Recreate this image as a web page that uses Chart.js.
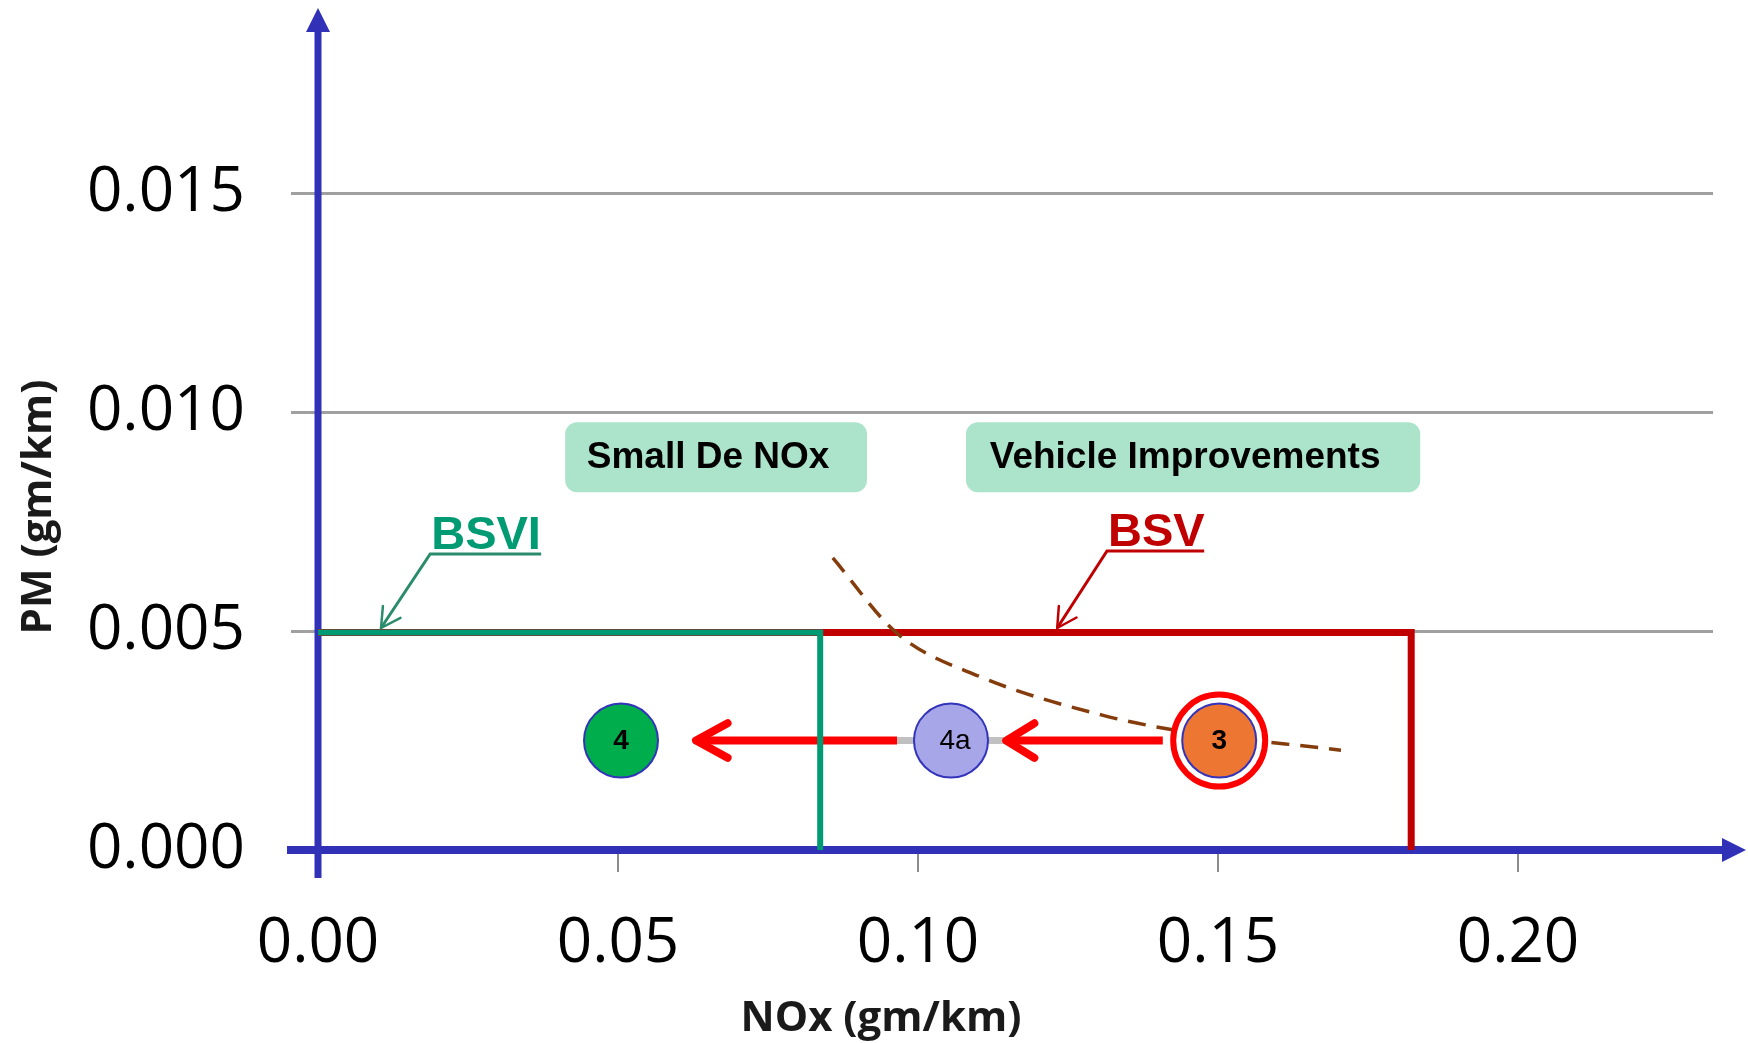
<!DOCTYPE html>
<html><head><meta charset="utf-8">
<script src="https://cdn.jsdelivr.net/npm/chart.js@4/dist/chart.umd.min.js"></script>
<style>html,body{margin:0;padding:0;background:#fff;overflow:hidden}canvas{display:block}</style>
</head><body>
<canvas id="c" width="1748" height="1043"></canvas>
<script>
// ---- axis ticks & titles
const xTickValues = [0, 0.05, 0.10, 0.15, 0.20];
const xTickLabels = ['0.00', '0.05', '0.10', '0.15', '0.20'];
const yTickValues = [0, 0.005, 0.010, 0.015];
const yTickLabels = ['0.000', '0.005', '0.010', '0.015'];
const xTitle = 'NOx (gm/km)';
const yTitle = 'PM (gm/km)';

// ---- measured points
const pointNames = ['4', '4a', '3'];
const pointNOx = [0.0505, 0.1055, 0.1502];
const pointPM = [0.0025, 0.0025, 0.0025];

// ---- emission limit boxes
const bsviNOx = [0, 0.0837, 0.0837];
const bsviPM = [0.00497, 0.00497, 0];
const bsvNOx = [0, 0.1822, 0.1822];
const bsvPM = [0.00497, 0.00497, 0];

// ---- NOx / PM trade-off curve
const tradeoffNOx = [0.0858, 0.0965, 0.1105, 0.1307, 0.1428, 0.1705];
const tradeoffPM = [0.00667, 0.00495, 0.00395, 0.00308, 0.00274, 0.00228];

// ---- improvement arrows
const arrow1NOx = [0.1408, 0.1147];
const arrow1PM = [0.0025, 0.0025];
const arrow2NOx = [0.0965, 0.0630];
const arrow2PM = [0.0025, 0.0025];
const linkNOx = [0.0965, 0.1388];
const linkPM = [0.0025, 0.0025];

// ---- callouts
const bsviLabel = 'BSVI';
const bsviCalloutNOx = [0.0372, 0.0187, 0.0105];
const bsviCalloutPM = [0.00676, 0.00676, 0.00507];
const bsvLabel = 'BSV';
const bsvCalloutNOx = [0.1477, 0.1315, 0.1232];
const bsvCalloutPM = [0.00683, 0.00683, 0.00507];

// ---- text boxes
const boxLabels = ['Small De NOx', 'Vehicle Improvements'];
const boxNOx = [[0.0412, 0.0915], [0.108, 0.1837]];
const boxPM = [[0.00977, 0.00817], [0.00977, 0.00817]];

const zip = (xs, ys) => xs.map((v, i) => ({x: v, y: ys[i]}));

const AXIS_BLUE = '#3131b7';
const TICK_FONT = '"Open Sans", "DejaVu Sans", sans-serif';
const BOLD_FONT = '"Liberation Sans", Arial, sans-serif';
const NARROW_FONT = '"Liberation Sans Narrow", "Liberation Sans", sans-serif';

const overlay = {
  id: 'overlay',
  beforeDatasetsDraw(chart) {
    const {ctx, chartArea, scales: {x, y}} = chart;
    ctx.save();
    // text boxes
    boxLabels.forEach((t, i) => {
      const x0 = x.getPixelForValue(boxNOx[i][0]), x1 = x.getPixelForValue(boxNOx[i][1]);
      const y0 = y.getPixelForValue(boxPM[i][0]), y1 = y.getPixelForValue(boxPM[i][1]);
      ctx.fillStyle = '#abe3cb';
      ctx.beginPath(); ctx.roundRect(x0, y0, x1 - x0, y1 - y0, 12); ctx.fill();
      ctx.fillStyle = '#000';
      ctx.font = 'bold 37px ' + BOLD_FONT;
      ctx.textAlign = 'center'; ctx.textBaseline = 'middle';
      ctx.fillText(t, (x0 + x1) / 2 - 8, (y0 + y1) / 2 + 1);
    });
    // axes with arrow heads
    const ox = x.getPixelForValue(0), oy = y.getPixelForValue(0);
    ctx.strokeStyle = AXIS_BLUE; ctx.fillStyle = AXIS_BLUE;
    ctx.lineWidth = 7;
    ctx.beginPath(); ctx.moveTo(ox, oy + 28); ctx.lineTo(ox, chartArea.top - 12); ctx.stroke();
    ctx.beginPath();
    ctx.moveTo(ox, chartArea.top - 32); ctx.lineTo(ox - 12, chartArea.top - 8); ctx.lineTo(ox + 12, chartArea.top - 8);
    ctx.closePath(); ctx.fill();
    ctx.lineWidth = 8;
    ctx.beginPath(); ctx.moveTo(ox - 31, oy); ctx.lineTo(chartArea.right + 14, oy); ctx.stroke();
    ctx.beginPath();
    ctx.moveTo(chartArea.right + 33, oy); ctx.lineTo(chartArea.right + 9, oy - 12); ctx.lineTo(chartArea.right + 9, oy + 12);
    ctx.closePath(); ctx.fill();
    ctx.restore();
  },
  afterDatasetsDraw(chart) {
    const {ctx} = chart;
    ctx.save();
    chart.data.datasets.forEach((ds, di) => {
      const meta = chart.getDatasetMeta(di);
      if (ds.arrowHead) {
        const n = meta.data.length;
        const tip = meta.data[n - 1], prev = meta.data[n - 2];
        const ang = Math.atan2(tip.y - prev.y, tip.x - prev.x);
        const {len, spread, width} = ds.arrowHead;
        ctx.strokeStyle = ds.borderColor; ctx.lineWidth = width;
        ctx.lineCap = 'round'; ctx.lineJoin = 'round';
        ctx.beginPath();
        ctx.moveTo(tip.x - len * Math.cos(ang - spread), tip.y - len * Math.sin(ang - spread));
        ctx.lineTo(tip.x, tip.y);
        ctx.lineTo(tip.x - len * Math.cos(ang + spread), tip.y - len * Math.sin(ang + spread));
        ctx.stroke();
      }
      if (ds.calloutText) {
        const b = meta.data[1];
        ctx.fillStyle = ds.textColor;
        ctx.font = 'bold 47px ' + BOLD_FONT;
        ctx.textAlign = 'left'; ctx.textBaseline = 'alphabetic';
        ctx.fillText(ds.calloutText, b.x + 1, b.y - 5);
      }
      if (ds.pointNames) {
        meta.data.forEach((p, i) => {
          const t = ds.pointNames[i];
          ctx.fillStyle = '#000';
          ctx.font = (t.length > 1 ? '' : 'bold ') + '28px ' + NARROW_FONT;
          ctx.textAlign = 'center'; ctx.textBaseline = 'middle';
          ctx.fillText(t, p.x + (t.length > 1 ? 4 : 0), p.y + 1);
        });
      }
    });
    ctx.restore();
  },
  afterDraw(chart) {
    const {ctx, chartArea} = chart;
    ctx.save();
    ctx.fillStyle = '#1a1a1a';
    ctx.font = 'bold 42px ' + TICK_FONT;
    ctx.textAlign = 'center'; ctx.textBaseline = 'middle';
    ctx.fillText(xTitle, chartArea.left + 563, chartArea.bottom + 169);
    ctx.translate(39, chartArea.bottom - 343);
    ctx.rotate(-Math.PI / 2);
    ctx.fillText(yTitle, 0, 0);
    ctx.restore();
  }
};

const lineDs = (data, color, width, order, extra) => Object.assign({
  data, showLine: true, borderColor: color, backgroundColor: color, borderWidth: width,
  pointRadius: 0, pointHoverRadius: 0, tension: 0, order, clip: false
}, extra || {});

new Chart(document.getElementById('c'), {
  type: 'scatter',
  data: {
    datasets: [
      {
        data: zip(pointNOx, pointPM), pointNames,
        pointRadius: 37, pointHoverRadius: 37, pointBorderWidth: 2,
        pointBackgroundColor: ['#00ad4c', '#a6a6e8', '#ec7632'],
        pointBorderColor: '#3333bb', showLine: false, order: 0, clip: false
      },
      {
        data: [zip(pointNOx, pointPM)[2]],
        pointRadius: 46, pointHoverRadius: 46, pointBorderWidth: 6,
        pointBackgroundColor: '#ffffff', pointBorderColor: '#ff0000', showLine: false, order: 1, clip: false
      },
      lineDs(zip(bsviNOx, bsviPM), '#009a73', 6, 2, {borderJoinStyle: 'miter'}),
      lineDs(zip(arrow1NOx, arrow1PM), '#ff0000', 8, 3, {arrowHead: {len: 33, spread: 0.55, width: 8}}),
      lineDs(zip(arrow2NOx, arrow2PM), '#ff0000', 8, 3, {arrowHead: {len: 36, spread: 0.5, width: 8}}),
      lineDs(zip(linkNOx, linkPM), '#c0c0c0', 7, 4),
      lineDs(zip(tradeoffNOx, tradeoffPM), '#843c0c', 3.5, 5, {borderDash: [18, 11], cubicInterpolationMode: 'monotone'}),
      lineDs(zip(bsvNOx, bsvPM), '#c00000', 7, 6, {borderJoinStyle: 'miter'}),
      lineDs(zip(bsviCalloutNOx, bsviCalloutPM), '#2a8c6c', 3, 7, {arrowHead: {len: 22, spread: 0.5, width: 2.5}, calloutText: bsviLabel, textColor: '#009a73'}),
      lineDs(zip(bsvCalloutNOx, bsvCalloutPM), '#c00000', 3, 7, {arrowHead: {len: 22, spread: 0.5, width: 2.5}, calloutText: bsvLabel, textColor: '#c00000'})
    ]
  },
  options: {
    responsive: false, animation: false, events: [],
    layout: {autoPadding: false, padding: {top: 40, right: 35, bottom: 0, left: 0}},
    plugins: {legend: {display: false}, tooltip: {enabled: false}},
    scales: {
      x: {
        type: 'linear', min: 0, max: 0.2325,
        afterBuildTicks: s => { s.ticks = xTickValues.map(v => ({value: v})); },
        afterFit: s => { s.height = 193; s.paddingLeft = 0; s.paddingRight = 0; },
        grid: {drawOnChartArea: false, drawTicks: true, tickLength: 22, color: '#8c8c8c', lineWidth: 2},
        border: {display: false},
        ticks: {
          padding: 35, color: '#000', font: {family: TICK_FONT, size: 62},
          callback: (v, i) => xTickLabels[i], maxRotation: 0, autoSkip: false
        }
      },
      y: {
        type: 'linear', min: 0, max: 0.0185,
        afterBuildTicks: s => { s.ticks = yTickValues.map(v => ({value: v})); },
        afterFit: s => { s.width = 318; s.paddingTop = 0; s.paddingBottom = 0; },
        grid: {drawTicks: true, tickLength: 27, color: '#a0a0a0', lineWidth: 3},
        border: {display: false},
        ticks: {
          padding: 46, color: '#000', font: {family: TICK_FONT, size: 62},
          callback: (v, i) => yTickLabels[i], autoSkip: false
        }
      }
    }
  },
  plugins: [overlay]
});
</script>
</body></html>
